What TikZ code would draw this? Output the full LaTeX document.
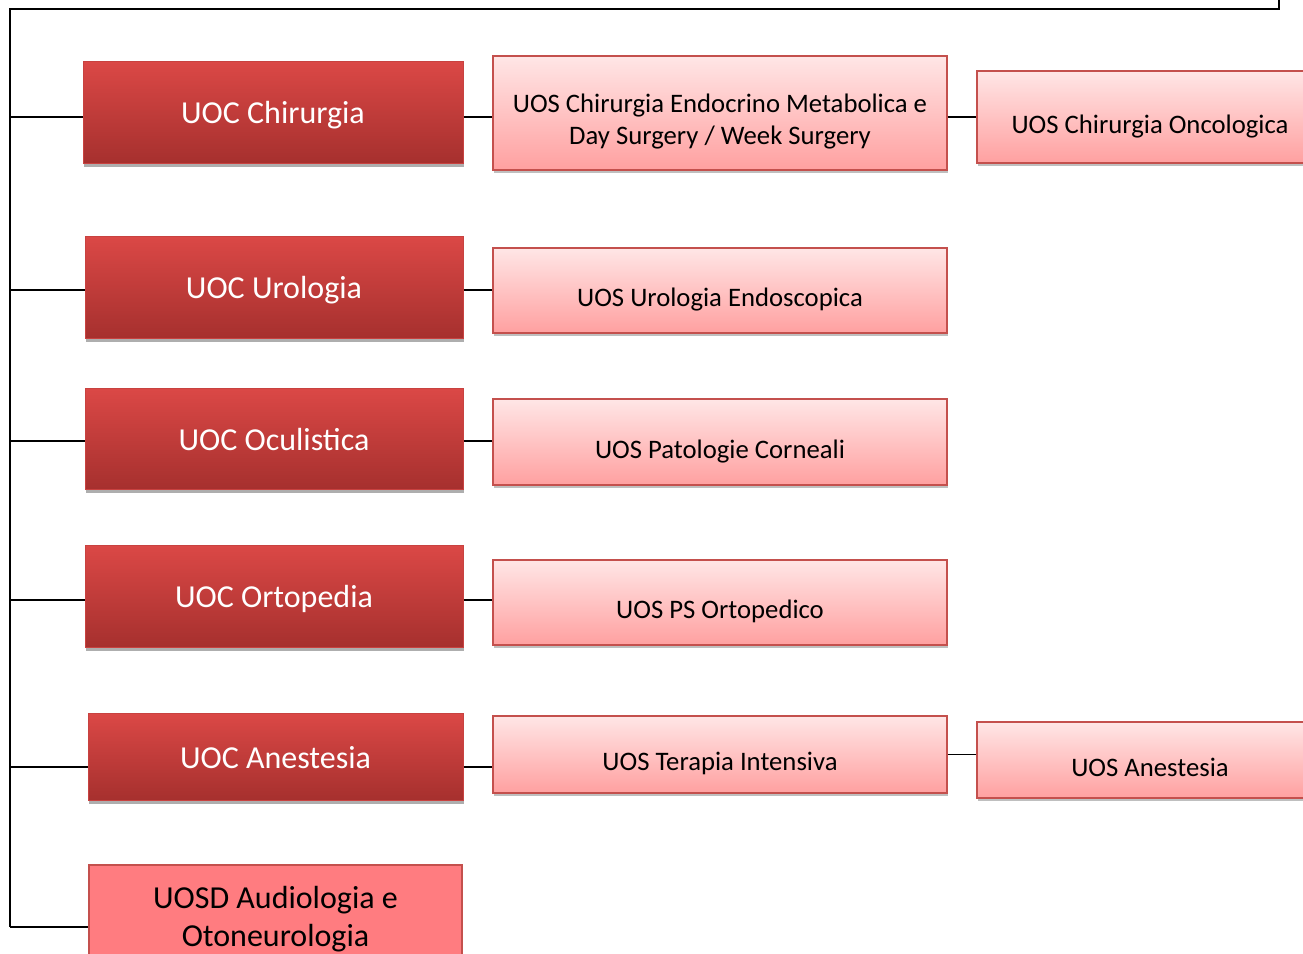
\documentclass[tikz,border=0pt]{standalone}
\usepackage{fontspec}
\setmainfont{Carlito}
\usepackage{tikz}
\usetikzlibrary{shadows}
\usepackage{xcolor}

\definecolor{uoctop}{RGB}{219,72,70}
\definecolor{uocbot}{RGB}{166,48,46}
\definecolor{uocedge}{RGB}{200,66,64}
\definecolor{uostop}{RGB}{255,230,230}
\definecolor{uosbot}{RGB}{255,160,160}
\definecolor{uosedge}{RGB}{196,80,77}
\definecolor{uosdfill}{RGB}{255,124,128}

\begin{document}
\begin{tikzpicture}[x=1pt,y=-1pt]
  \tikzset{uocbox/.style={draw=uocedge,line width=1pt,top color=uoctop,bottom color=uocbot,text=white,inner sep=0pt,minimum width=380pt,text height=29pt,text depth=6pt,font=\fontsize{32}{38}\selectfont,drop shadow={shadow xshift=1pt,shadow yshift=-4pt,opacity=0.45,fill=black!70}}}
  \tikzset{uosbox/.style={draw=uosedge,line width=1.3pt,top color=uostop,bottom color=uosbot,text=black,inner sep=0pt,minimum width=454pt,font=\fontsize{26.7}{32}\selectfont,drop shadow={shadow xshift=1pt,shadow yshift=-3pt,opacity=0.5,fill=black!50}}}
  \tikzset{uosline/.style={text height=37pt,text depth=5pt}}
  \tikzset{uosdbox/.style={draw=uosedge,line width=1.3pt,fill=uosdfill,text=black,inner sep=0pt,minimum width=373pt,align=center,font=\fontsize{32}{38.5}\selectfont}}
  \tikzset{orgline/.style={draw=black,line width=1.4pt}}

  \useasboundingbox (0,0) rectangle (1303,953);
  \clip (0,0) rectangle (1303,953);

  % trunk
  \coordinate (topR) at (1279,-5);
  \coordinate (topL) at (10,9);
  \coordinate (trunkEnd) at (10,927);
  \draw[orgline] (topR) |- (topL) -- (trunkEnd);

  % UOC column
  \node[uocbox,minimum height=102pt] (chir) at (273,112) {UOC Chirurgia};
  \node[uocbox,minimum width=378pt,minimum height=102pt] (urol) at (274,287) {UOC Urologia};
  \node[uocbox,minimum width=378pt,minimum height=101pt] (ocul) at (274,438.5) {UOC Oculistica};
  \node[uocbox,minimum width=378pt,minimum height=102pt] (orto) at (274,596) {UOC Ortopedia};
  \node[uocbox,minimum width=375pt,minimum height=87pt] (anest) at (275.5,756.5) {UOC Anestesia};
  \node[uosdbox,minimum height=104pt] (audio) at (275.5,917) {\rule{0pt}{26pt}UOSD Audiologia e\\Otoneurologia};

  % UOS column
  \node[uosbox,align=center,minimum height=114pt] (endo) at (720,113) {\rule{0pt}{36pt}UOS Chirurgia Endocrino Metabolica e\\Day Surgery / Week Surgery};
  \node[uosbox,uosline,minimum height=85pt] (uroendo) at (720,290.5) {UOS Urologia Endoscopica};
  \node[uosbox,uosline,minimum height=86pt] (cornea) at (720,442) {UOS Patologie Corneali};
  \node[uosbox,uosline,minimum height=85pt] (psorto) at (720,602.5) {UOS PS Ortopedico};
  \node[uosbox,uosline,minimum height=77pt] (terapia) at (720,754.5) {UOS Terapia Intensiva};
  \node[uosbox,uosline,minimum width=346pt,minimum height=92pt] (onco) at (1150,117) {UOS Chirurgia Oncologica};
  \node[uosbox,uosline,minimum width=346pt,minimum height=76pt] (anesuos) at (1150,760) {UOS Anestesia};

  % branches
  \coordinate (jchir) at (10,117);
  \coordinate (jurol) at (10,290);
  \coordinate (jocul) at (10,441);
  \coordinate (jorto) at (10,600);
  \coordinate (janest) at (10,767);
  \draw[orgline] (jchir) -- (jchir -| chir.west);
  \draw[orgline] (jurol) -- (jurol -| urol.west);
  \draw[orgline] (jocul) -- (jocul -| ocul.west);
  \draw[orgline] (jorto) -- (jorto -| orto.west);
  \draw[orgline] (janest) -- (janest -| anest.west);
  \draw[orgline] (trunkEnd) -- (trunkEnd -| audio.west);

  \draw[orgline] (jchir -| chir.east) -- (jchir -| endo.west);
  \draw[orgline] (jurol -| urol.east) -- (jurol -| uroendo.west);
  \draw[orgline] (jocul -| ocul.east) -- (jocul -| cornea.west);
  \draw[orgline] (jorto -| orto.east) -- (jorto -| psorto.west);
  \draw[orgline] (janest -| anest.east) -- (janest -| terapia.west);
  \draw[orgline] (endo.east |- onco.west) -- (onco.west);
  \draw[orgline] (terapia.east) -- (terapia.east -| anesuos.west);
\end{tikzpicture}
\end{document}
